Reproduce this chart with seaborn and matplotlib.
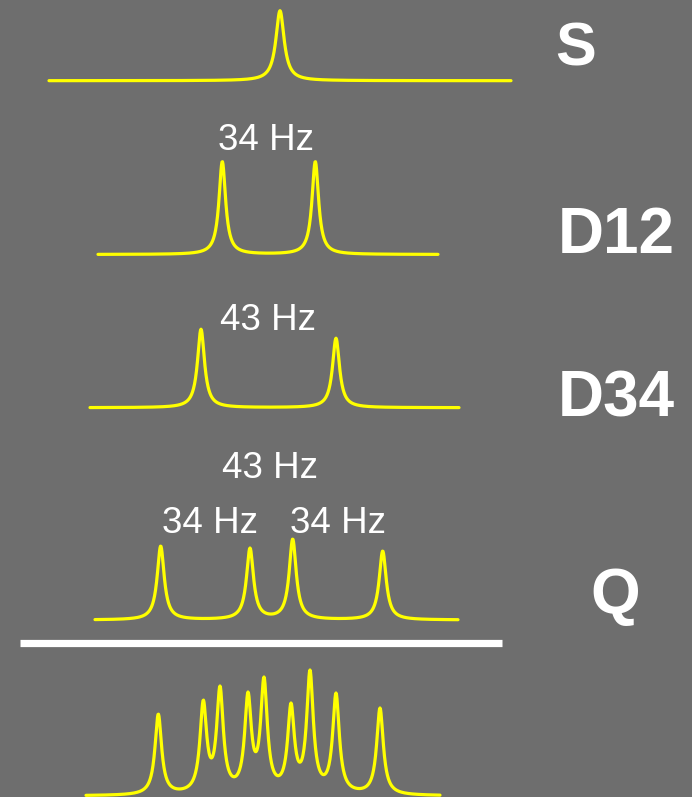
import numpy as np
import pandas as pd
import matplotlib
matplotlib.use("Agg")
import matplotlib.pyplot as plt
import seaborn as sns

# ---------------- data ----------------
# peak positions along the frequency axis and observed apex heights of each trace
s_centers = [280.0]
s_tops = [70.0]
d12_centers = [222.3, 315.3]
d12_tops = [93.0, 93.0]
d34_centers = [201.0, 336.0]
d34_tops = [78.5, 69.5]
q_centers = [160.7, 250.0, 292.7, 382.7]
q_tops = [74.0, 72.0, 81.0, 69.0]
sum_centers = [158.3, 203.3, 220.0, 248.0, 264.0, 291.0, 310.0, 336.0, 380.0]
sum_tops = [82.0, 96.0, 110.0, 104.0, 119.0, 93.0, 126.0, 103.0, 88.0]

# linewidths (FWHM) of each trace
s_fwhm = 10.0
d12_fwhm = 8.0
d34_fwhm = 8.5
q_fwhm = 8.5
sum_fwhm = 8.0

coupling_labels = ["34 Hz", "43 Hz", "43 Hz", "34 Hz", "34 Hz"]
trace_labels = ["S", "D12", "D34", "Q"]

# ---------------- layout (pixel frame of the slide) ----------------
W, H = 692, 797
traces = [
    # centers, tops, fwhm, x-range, baseline
    (s_centers, s_tops, s_fwhm, (49, 511), 80.7),
    (d12_centers, d12_tops, d12_fwhm, (98, 438), 254.5),
    (d34_centers, d34_tops, d34_fwhm, (90, 459), 407.7),
    (q_centers, q_tops, q_fwhm, (95, 458), 620.0),
    (sum_centers, sum_tops, sum_fwhm, (86, 440), 796.0),
]
coupling_pos = [(266, 150), (268.5, 330), (269.7, 478.3), (210.3, 533.3), (338.3, 533.3)]
label_pos = [(575.5, 65.5, 44), (616, 252.7, 46), (616, 416, 46), (614.7, 614, 46)]

BG = "#6e6e6e"
YEL = "#ffff00"

sns.set_style("dark", {"axes.facecolor": BG, "figure.facecolor": BG})
plt.rcParams["font.family"] = ["Liberation Sans", "DejaVu Sans"]

fig = plt.figure(figsize=(W / 100, H / 100), dpi=100, facecolor=BG)
ax = fig.add_axes([0, 0, 1, 1])
ax.set_facecolor(BG)


def lorentz_sum(x, centers, tops, fwhm):
    c = np.asarray(centers, float)
    hw = fwhm / 2.0
    A = 1.0 / (1.0 + ((c[:, None] - c[None, :]) / hw) ** 2)
    amps = np.linalg.solve(A, np.asarray(tops, float))
    return (amps[None, :] / (1.0 + ((x[:, None] - c[None, :]) / hw) ** 2)).sum(axis=1)


frames = []
for i, (cen, tops, fw, (x0, x1), base) in enumerate(traces):
    x = np.arange(x0, x1 + 0.01, 0.5)
    y = base - lorentz_sum(x, cen, tops, fw)
    frames.append(pd.DataFrame({"x": x, "y": y, "trace": i}))
df = pd.concat(frames, ignore_index=True)

for i, sub in df.groupby("trace"):
    sns.lineplot(data=sub, x="x", y="y", ax=ax, color=YEL, lw=2.3,
                 sort=False, estimator=None, legend=False)

# white separator bar
ax.hlines(643, 20, 502, color="white", lw=5.2)

for txt, (x, y) in zip(coupling_labels, coupling_pos):
    ax.text(x, y, txt, color="white", fontsize=26.5, ha="center", va="baseline")

for txt, (x, y, fs) in zip(trace_labels, label_pos):
    ax.text(x, y, txt, color="white", fontsize=fs, fontweight="bold",
            ha="center", va="baseline")

ax.set_xlim(0, W)
ax.set_ylim(H, 0)
ax.set_xlabel("")
ax.set_ylabel("")
ax.set_xticks([])
ax.set_yticks([])
for s in ax.spines.values():
    s.set_visible(False)

fig.savefig("out.png", dpi=100, facecolor=BG)
